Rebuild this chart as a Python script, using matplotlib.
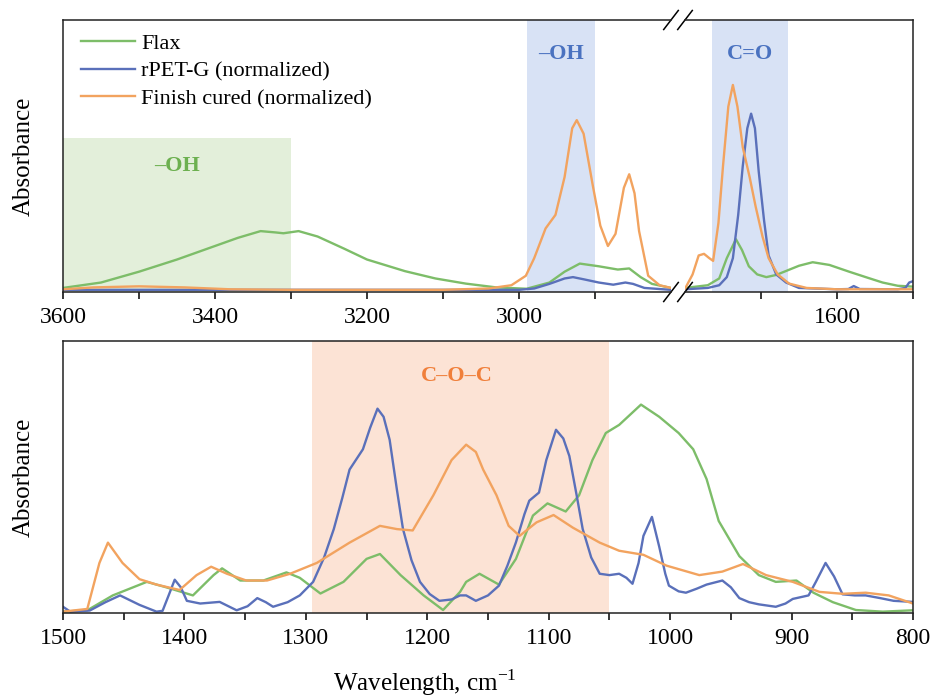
import numpy as np
import matplotlib.pyplot as plt

plt.rcParams['font.family'] = ['Liberation Serif', 'DejaVu Serif']
plt.rcParams['mathtext.fontset'] = 'custom'
plt.rcParams['mathtext.rm'] = 'Liberation Serif'

GREEN = "#7dbd69"
BLUE = "#5a70ba"
ORANGE = "#f2a35f"

# ---- top panel (high + carbonyl range), wavenumber / normalized absorbance
flax_top_w = [3600, 3550, 3500, 3450, 3400, 3370, 3340, 3320, 3310, 3290, 3265, 3230, 3200,
              3150, 3110, 3070, 3030, 2990, 2960, 2940, 2920, 2895, 2870, 2855, 2840, 2825, 2800,
              1800, 1770, 1755, 1745, 1733, 1725, 1716, 1705, 1693, 1680, 1665, 1650, 1632,
              1610, 1584, 1560, 1540, 1520, 1500]
flax_top_a = [0.01, 0.03, 0.07, 0.115, 0.165, 0.195, 0.22, 0.215, 0.212, 0.22, 0.20, 0.155, 0.115,
              0.072, 0.045, 0.026, 0.012, 0.007, 0.03, 0.07, 0.10, 0.09, 0.078, 0.082, 0.05, 0.025, 0.01,
              0.01, 0.02, 0.045, 0.12, 0.19, 0.15, 0.09, 0.06, 0.05, 0.058, 0.075, 0.092, 0.105,
              0.095, 0.07, 0.048, 0.03, 0.018, 0.015]

pet_top_w = [3600, 3000, 2980, 2960, 2940, 2929, 2915, 2895, 2876, 2860, 2850, 2835, 2800,
             1800, 1770, 1755, 1745, 1737, 1730, 1724, 1718, 1713, 1708, 1703, 1696, 1690,
             1680, 1667, 1650, 1600, 1585, 1578, 1570, 1520, 1510, 1505, 1500]
pet_top_a = [0.003, 0.003, 0.008, 0.025, 0.045, 0.05, 0.042, 0.03, 0.022, 0.03, 0.025, 0.01, 0.003,
             0.005, 0.01, 0.02, 0.05, 0.12, 0.28, 0.46, 0.6, 0.654, 0.6, 0.44, 0.26, 0.13,
             0.06, 0.03, 0.01, 0.005, 0.006, 0.017, 0.006, 0.005, 0.01, 0.03, 0.035]

fin_top_w = [3600, 3560, 3500, 3440, 3380, 3300, 3100, 3040, 3010, 2991, 2980, 2965, 2952, 2940,
             2930, 2924, 2915, 2903, 2893, 2883, 2873, 2862, 2855, 2848, 2842, 2830, 2815, 2800,
             1800, 1790, 1782, 1775, 1768, 1763, 1756, 1750, 1743, 1737, 1731, 1724, 1715,
             1707, 1698, 1690, 1678, 1663, 1640, 1600, 1500]
fin_top_a = [0.005, 0.012, 0.016, 0.012, 0.005, 0.003, 0.003, 0.008, 0.02, 0.055, 0.12, 0.23, 0.28, 0.42,
             0.6, 0.63, 0.58, 0.39, 0.24, 0.165, 0.21, 0.38, 0.43, 0.36, 0.22, 0.055, 0.02, 0.01,
             0.007, 0.06, 0.13, 0.136, 0.12, 0.11, 0.25, 0.46, 0.68, 0.76, 0.68, 0.53, 0.42,
             0.31, 0.2, 0.12, 0.06, 0.026, 0.01, 0.005, 0.005]

# ---- bottom panel (fingerprint range)
pet_fp_w = [1500, 1494, 1478, 1465, 1453, 1437, 1423, 1418, 1413, 1408, 1403, 1398, 1387, 1371,
            1357, 1348, 1340, 1333, 1327, 1315, 1305, 1294, 1285, 1277, 1270, 1264, 1253, 1247,
            1241, 1236, 1231, 1225, 1220, 1213, 1206, 1198, 1190, 1180, 1173, 1168, 1160, 1150,
            1141, 1134, 1127, 1120, 1116, 1108, 1102, 1094, 1088, 1083, 1077, 1072, 1065, 1058,
            1050, 1042, 1036, 1031, 1026, 1022, 1015, 1009, 1004, 1001, 993, 987, 978, 970, 957,
            950, 943, 935, 927, 913, 905, 899, 886, 880, 872, 865, 858, 848, 839, 827, 816, 800]
pet_fp_a = [0.018, 0.0, 0.004, 0.035, 0.06, 0.025, 0.0, 0.003, 0.06, 0.118, 0.09, 0.04, 0.03, 0.036,
            0.005, 0.02, 0.05, 0.035, 0.018, 0.035, 0.06, 0.11, 0.2, 0.305, 0.42, 0.525, 0.6, 0.68,
            0.75, 0.72, 0.635, 0.45, 0.305, 0.19, 0.11, 0.065, 0.04, 0.045, 0.06, 0.06, 0.04, 0.06,
            0.096, 0.17, 0.256, 0.36, 0.41, 0.44, 0.56, 0.672, 0.64, 0.575, 0.43, 0.305, 0.2, 0.14,
            0.135, 0.14, 0.125, 0.103, 0.18, 0.28, 0.35, 0.24, 0.14, 0.096, 0.075, 0.07, 0.085, 0.1, 0.115,
            0.09, 0.05, 0.035, 0.027, 0.018, 0.03, 0.047, 0.06, 0.11, 0.18, 0.13, 0.064, 0.06, 0.06, 0.05, 0.04, 0.036]

fin_fp_w = [1500, 1480, 1470, 1463, 1451, 1437, 1423, 1404, 1390, 1378, 1365, 1349, 1332, 1313,
            1291, 1264, 1239, 1225, 1212, 1195, 1180, 1168, 1160, 1154, 1143, 1133, 1124, 1110,
            1096, 1080, 1058, 1042, 1022, 1003, 976, 957, 940, 921, 899, 877, 858, 839, 820, 800]
fin_fp_a = [0.0, 0.01, 0.18, 0.255, 0.18, 0.12, 0.1, 0.08, 0.135, 0.166, 0.14, 0.115, 0.115, 0.14,
            0.18, 0.255, 0.317, 0.305, 0.3, 0.43, 0.56, 0.617, 0.59, 0.525, 0.43, 0.317, 0.28, 0.33,
            0.357, 0.31, 0.255, 0.225, 0.21, 0.17, 0.135, 0.148, 0.176, 0.135, 0.11, 0.073, 0.066, 0.07, 0.06, 0.03]

flax_fp_w = [1500, 1480, 1459, 1431, 1415, 1393, 1376, 1369, 1354, 1335, 1316, 1305, 1288, 1269,
             1250, 1239, 1222, 1203, 1187, 1173, 1168, 1157, 1141, 1127, 1113, 1101, 1086, 1075,
             1064, 1053, 1042, 1024, 1009, 993, 981, 970, 960, 943, 927, 913, 896, 882, 866, 847, 825, 800]
flax_fp_a = [0.0, 0.005, 0.06, 0.11, 0.09, 0.06, 0.135, 0.16, 0.115, 0.115, 0.145, 0.125, 0.067, 0.11,
             0.195, 0.213, 0.135, 0.06, 0.006, 0.073, 0.11, 0.14, 0.1, 0.195, 0.355, 0.4, 0.37, 0.43,
             0.56, 0.66, 0.69, 0.765, 0.72, 0.66, 0.6, 0.49, 0.335, 0.205, 0.135, 0.11, 0.115, 0.07, 0.035, 0.006, 0.0, 0.005]

fig = plt.figure(figsize=(9.32, 6.97), dpi=100)
ax_hi = fig.add_axes([63/932, 1-292/697, 608/932, 272/697])
ax_co = fig.add_axes([685/932, 1-292/697, 228/932, 272/697])
ax_fp = fig.add_axes([63/932, 1-613/697, 850/932, 272/697])

series_top = [(flax_top_w, flax_top_a, GREEN, "Flax"),
              (pet_top_w, pet_top_a, BLUE, "rPET-G (normalized)"),
              (fin_top_w, fin_top_a, ORANGE, "Finish cured (normalized)")]
for ax in (ax_hi, ax_co):
    for w, a, c, lab in series_top:
        ax.plot(w, a, color=c, lw=1.7, label=lab, solid_joinstyle="round")
    ax.set_ylim(-0.005, 1)
    ax.set_yticks([])

ax_hi.set_xlim(3600, 2800)
ax_co.set_xlim(1800, 1500)
ax_hi.set_xticks([3600, 3400, 3200, 3000])
ax_hi.set_xticks([3500, 3300, 3100, 2900], minor=True)
ax_co.set_xticks([1600])
ax_co.set_xticks([1700, 1500], minor=True)
ax_hi.spines["right"].set_visible(False)
ax_co.spines["left"].set_visible(False)

# highlighted bands, top
ax_hi.axvspan(3600, 3300, ymin=0, ymax=0.566, color="#e3efda", zorder=0, lw=0)
ax_hi.axvspan(2990, 2900, color="#d8e2f5", zorder=0, lw=0)
ax_co.axvspan(1765, 1665, color="#d8e2f5", zorder=0, lw=0)
ax_hi.text(3450, 0.46, "–OH", color="#6cb04f", fontsize=16, weight="bold", ha="center", va="center")
ax_hi.text(2945, 0.875, "–OH", color="#4a72c0", fontsize=16, weight="bold", ha="center", va="center")
ax_co.text(1714, 0.875, "C=O", color="#4a72c0", fontsize=16, weight="bold", ha="center", va="center")

ax_hi.legend(loc="upper left", frameon=False, fontsize=16, handlelength=2.4,
             handletextpad=0.3, labelspacing=0.32, borderaxespad=0.2,
             bbox_to_anchor=(0.008, 1.0))
ax_hi.set_ylabel("Absorbance", fontsize=18, labelpad=20)

# break marks
d = 0.035
kw = dict(color="k", lw=1.1, clip_on=False)
for yy in (0, 1):
    ax_hi.plot([1 - 0.012, 1 + 0.012], [yy - d, yy + d], transform=ax_hi.transAxes, **kw)
    ax_co.plot([-0.032, 0.032], [yy - d, yy + d], transform=ax_co.transAxes, **kw)

# bottom panel
ax_fp.axvspan(1295, 1050, color="#fce3d5", zorder=0, lw=0)
ax_fp.plot(flax_fp_w, flax_fp_a, color=GREEN, lw=1.7, solid_joinstyle="round")
ax_fp.plot(pet_fp_w, pet_fp_a, color=BLUE, lw=1.7, solid_joinstyle="round")
ax_fp.plot(fin_fp_w, fin_fp_a, color=ORANGE, lw=1.7, solid_joinstyle="round")
ax_fp.set_xlim(1500, 800)
ax_fp.set_ylim(-0.005, 1)
ax_fp.set_yticks([])
ax_fp.set_xticks(np.arange(1500, 799, -100))
ax_fp.set_xticks(np.arange(1450, 800, -100), minor=True)
ax_fp.text(1176, 0.87, "C–O–C", color="#f07f3a", fontsize=16, weight="bold", ha="center", va="center")
ax_fp.set_ylabel("Absorbance", fontsize=18, labelpad=20)
ax_fp.set_xlabel("Wavelength, cm$^{-1}$", fontsize=18, labelpad=6)
ax_fp.xaxis.set_label_coords(0.426, -0.2)

for ax in (ax_hi, ax_co, ax_fp):
    for s in ax.spines.values():
        s.set_linewidth(1.1)
        s.set_color("#222222")
    ax.tick_params(axis="x", which="both", direction="out", length=5, width=1.1,
                   labelsize=17, pad=6)

fig.savefig("out.png", dpi=100)
